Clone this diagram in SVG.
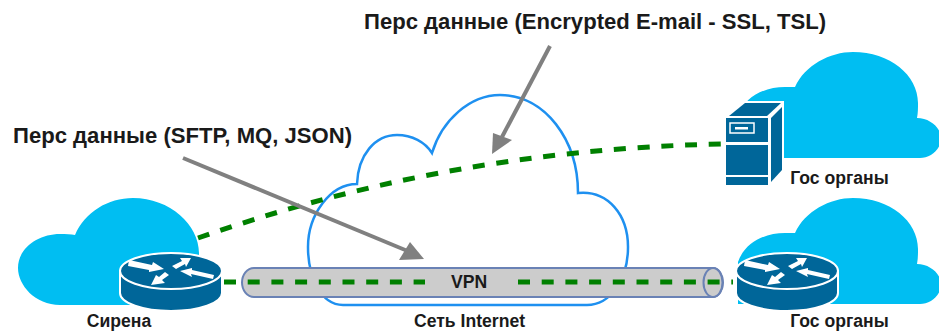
<svg xmlns="http://www.w3.org/2000/svg" width="939" height="331" viewBox="0 0 939 331">
<style>
.cl{fill:#00bef2}
.t{font-family:"Liberation Sans",Arial,sans-serif;font-weight:bold;fill:#1a1a1a}
.b{font-size:22.100px}
.s{font-size:17.600px}
.d{fill:#006699}
.dash{fill:none;stroke:#008000;stroke-width:5;stroke-dasharray:12 11.7}
.g{fill:none;stroke:#808080;stroke-width:4}
.ah{fill:#808080}
.w{fill:#fff}
</style>
<defs>
<path id="rc" d="M738,116C745,96 765,87 785,87C790,87 793,87 795,87C805,65 830,52 853,52C890,52 918,75 918,103C918,108 918,113 917,118C930,118 941,128 941,138C941,150 930,158 920,158L738,158Z"/>
<g id="router">
<path class="d" stroke="#fff" stroke-width="2" d="M120,271V293C120,303 143,311 171,311C199,311 222,303 222,293V271Z"/>
<ellipse class="d" stroke="#fff" stroke-width="2" cx="171" cy="271" rx="51" ry="18"/>
<polygon class="w" points="129,260 152,265 153,262 164,269 149,272 149,270 128,266"/>
<polygon class="w" points="191,258 180,258 182,261 172,266 176,269 185,264 186,267"/>
<polygon class="w" points="180,271 192,268 192,270 214,275 213,279 191,274 192,277"/>
<polygon class="w" points="151,285 165,283 162,280 169,275 165,272 159,277 156,275"/>
</g>
</defs>
<g id="cloud-internet"><path fill="none" stroke="#1e90f0" stroke-width="2.5" d="M343,305C320,305 308,275 308,247C308,215 330,184 357,184C358,155 375,135 397,135C412,135 425,142 432,153C442,120 470,95 500,95C545,95 578,140 578,193C608,190 628,215 628,247C628,280 610,305 587,305Z"/><text class="t s" x="469.500" y="326.500" text-anchor="middle">Сеть Internet</text></g>
<g id="vpn-tube"><path fill="#ccc" stroke="#6a82b5" stroke-width="2" d="M254,268H713C719,268 723,275 723,282.500C723,290 719,297 713,297H254C247,297 242,290 242,282.500C242,275 247,268 254,268Z"/><ellipse fill="#ccc" stroke="#6a82b5" stroke-width="2" cx="713" cy="282.500" rx="9.500" ry="14.500"/><text class="t s" x="469" y="288" text-anchor="middle">VPN</text></g>
<g id="sirena"><path class="cl" d="M60,305C35,305 18,285 18,268C18,248 38,234 60,234C66,234 71,234 75,235C85,212 108,198 133,198C170,198 199,225 199,253L199,305Z"/><use href="#router"/><text class="t s" x="119" y="326.500" text-anchor="middle">Сирена</text></g>
<g id="gov-server"><use href="#rc" class="cl"/>
<path fill="#fff" d="M724,116L745,101H784V171L771,184V187H724Z"/>
<rect class="d" x="726" y="118" width="42" height="24"/><rect class="d" x="726" y="145" width="42" height="30"/><rect class="d" x="726" y="177" width="42" height="8"/>
<polygon class="d" points="729,116 745,103 781,103 767,116"/><polygon class="d" points="771,118 782,107 782,170 771,182"/>
<rect x="730" y="123" width="24" height="10" fill="none" stroke="#fff" stroke-width="1.500"/><rect class="w" x="735" y="127" width="13" height="2.500"/>
<text class="t s" x="839.500" y="184" text-anchor="middle">Гос органы</text></g>
<g id="gov-router"><use href="#rc" class="cl" y="146"/><use href="#router" x="616"/><text class="t s" x="839.500" y="326.500" text-anchor="middle">Гос органы</text></g>
<g id="connectors">
<path class="dash" d="M198,238C350,185 520,148 722,144"/>
<path class="dash" d="M224,282H425"/>
<path class="dash" d="M518,282H733"/>
<path class="g" d="M183,158L410,252"/><polygon class="ah" points="424,259 410,242 399,260"/>
<path class="g" d="M550,46L502,137"/><polygon class="ah" points="492,154 493,133 512,140"/>
</g>
<text class="t b" x="364" y="29">Перс данные (Encrypted E-mail - SSL, TSL)</text>
<text class="t b" x="13" y="143">Перс данные (SFTP, MQ, JSON)</text>
</svg>
